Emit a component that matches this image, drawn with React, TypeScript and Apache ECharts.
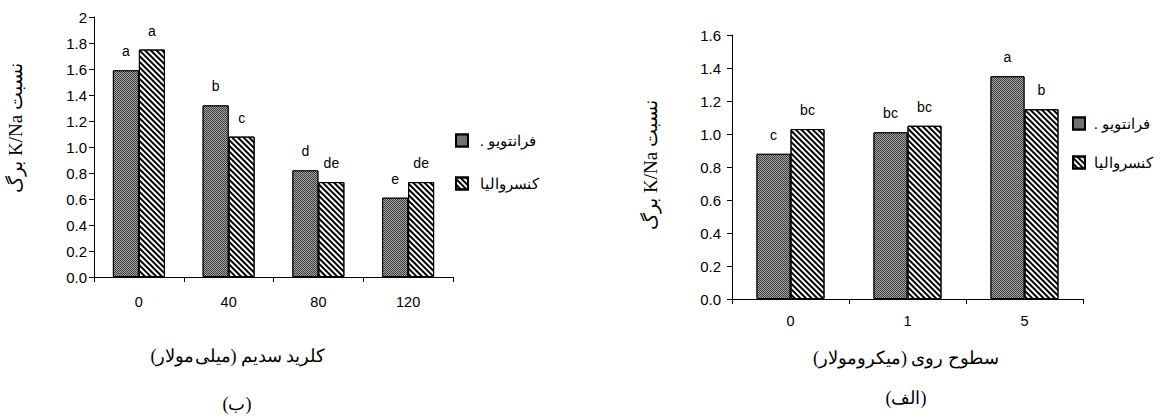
import React, { useEffect, useRef } from "react";
import * as echarts from "echarts";

// ---------- data ----------
const seriesNames = ["فرانتویو", "کنسروالیا"];

// chart (ب) : NaCl levels
const naclCategories = ["0", "40", "80", "120"];
const naclFrantoio = [1.59, 1.32, 0.82, 0.61];
const naclConservolia = [1.75, 1.08, 0.73, 0.73];
const naclFrantoioLetters = ["a", "b", "d", "e"];
const naclConservoliaLetters = ["a", "c", "de", "de"];
const naclYTicks = ["0.0", "0.2", "0.4", "0.6", "0.8", "1.0", "1.2", "1.4", "1.6", "1.8", "2"];

// chart (الف) : Zn levels
const znCategories = ["0", "1", "5"];
const znFrantoio = [0.88, 1.01, 1.35];
const znConservolia = [1.03, 1.05, 1.15];
const znFrantoioLetters = ["c", "bc", "a"];
const znConservoliaLetters = ["bc", "bc", "b"];
const znYTicks = ["0.0", "0.2", "0.4", "0.6", "0.8", "1.0", "1.2", "1.4", "1.6"];

const yAxisTitle = "نسبت K/Na برگ";
const naclXTitle = "کلرید سدیم (میلی‌مولار)";
const naclCaption = "(ب)";
const znXTitle = "سطوح روی (میکرومولار)";
const znCaption = "(الف)";

const rtl = (s: string) => "\u202B" + s + "\u202C";

const SANS = "Liberation Sans, Arial, sans-serif";
const SERIF = "Liberation Serif, 'Times New Roman', DejaVu Serif, serif";

const darkStyle = {
  color: "#3a3a3a",
  borderColor: "#000",
  borderWidth: 1,
  decal: {
    symbol: "rect",
    symbolSize: 1,
    color: "#a8a8a8",
    dashArrayX: [
      [1, 1],
      [0, 1, 1, 0],
    ],
    dashArrayY: [1, 0],
  },
};
const hatchStyle = {
  color: "#ffffff",
  borderColor: "#000",
  borderWidth: 1,
  decal: {
    symbol: "rect",
    symbolSize: 1,
    color: "#000",
    dashArrayX: [1, 0],
    dashArrayY: [1.4, 1.6],
    rotation: Math.PI / 4,
  },
};

const labelStyle = (letters: string[]) => ({
  show: true,
  position: "top",
  distance: 12,
  color: "#000",
  fontFamily: SANS,
  fontSize: 14,
  formatter: (p: any) => letters[p.dataIndex],
});

export default function App() {
  const ref = useRef<HTMLDivElement>(null);
  useEffect(() => {
    if (!ref.current) return;
    const chart = echarts.init(ref.current, null, { renderer: "svg" });
    const axisLine = { show: true, lineStyle: { color: "#000", width: 1 } };
    const axisTick = { show: true, length: 5, inside: false, lineStyle: { color: "#000" } };
    const titleStyle = (text: string) => ({
      text: rtl(text),
      fill: "#000",
      font: "18px " + SERIF,
      textAlign: "center",
      textVerticalAlign: "middle",
    });
    const option: any = {
      animation: false,
      backgroundColor: "#fff",
      grid: [
        { left: 94, top: 17, width: 359, height: 260 },
        { left: 732, top: 35, width: 351, height: 264 },
      ],
      xAxis: [
        {
          type: "category",
          gridIndex: 0,
          data: naclCategories,
          axisLine,
          axisTick,
          axisLabel: { color: "#000", fontFamily: SANS, fontSize: 14.5, margin: 17 },
        },
        {
          type: "category",
          gridIndex: 1,
          data: znCategories,
          axisLine,
          axisTick,
          axisLabel: { color: "#000", fontFamily: SANS, fontSize: 14.5, margin: 14 },
        },
      ],
      yAxis: [
        {
          type: "value",
          gridIndex: 0,
          min: 0,
          max: 2,
          interval: 0.2,
          axisLine,
          axisTick,
          splitLine: { show: false },
          axisLabel: {
            color: "#000",
            fontFamily: SANS,
            fontSize: 15,
            margin: 7,
            formatter: (v: number) => naclYTicks[Math.round(v / 0.2)],
          },
        },
        {
          type: "value",
          gridIndex: 1,
          min: 0,
          max: 1.6,
          interval: 0.2,
          axisLine,
          axisTick,
          splitLine: { show: false },
          axisLabel: {
            color: "#000",
            fontFamily: SANS,
            fontSize: 15,
            margin: 11,
            formatter: (v: number) => znYTicks[Math.round(v / 0.2)],
          },
        },
      ],
      legend: [
        {
          left: 455,
          top: 133,
          padding: 0,
          orient: "vertical",
          icon: "rect",
          itemWidth: 12,
          itemHeight: 12,
          itemGap: 28,
          selectedMode: false,
          data: seriesNames,
          formatter: (n: string) => (n === seriesNames[0] ? rtl(n + " .") : rtl(n)),
          textStyle: { color: "#000", fontFamily: SERIF, fontSize: 15, padding: [0, 0, 0, 7] },
        },
        {
          left: 1072,
          top: 116,
          padding: 0,
          orient: "vertical",
          icon: "rect",
          itemWidth: 12,
          itemHeight: 12,
          itemGap: 24,
          selectedMode: false,
          data: seriesNames,
          formatter: (n: string) => (n === seriesNames[0] ? rtl(n + " .") : rtl(n)),
          textStyle: { color: "#000", fontFamily: SERIF, fontSize: 15, padding: [0, 0, 0, 4] },
        },
      ],
      series: [
        {
          name: seriesNames[0],
          type: "bar",
          xAxisIndex: 0,
          yAxisIndex: 0,
          data: naclFrantoio,
          barWidth: 26,
          barGap: "0%",
          itemStyle: darkStyle,
          label: labelStyle(naclFrantoioLetters),
        },
        {
          name: seriesNames[1],
          type: "bar",
          xAxisIndex: 0,
          yAxisIndex: 0,
          data: naclConservolia,
          barWidth: 26,
          barGap: "0%",
          itemStyle: hatchStyle,
          label: labelStyle(naclConservoliaLetters),
        },
        {
          name: seriesNames[0],
          type: "bar",
          xAxisIndex: 1,
          yAxisIndex: 1,
          data: znFrantoio,
          barWidth: 34,
          barGap: "0%",
          itemStyle: darkStyle,
          label: labelStyle(znFrantoioLetters),
        },
        {
          name: seriesNames[1],
          type: "bar",
          xAxisIndex: 1,
          yAxisIndex: 1,
          data: znConservolia,
          barWidth: 34,
          barGap: "0%",
          itemStyle: hatchStyle,
          label: labelStyle(znConservoliaLetters),
        },
      ],
      graphic: [
        { type: "text", x: 15, y: 128, rotation: Math.PI / 2, style: { ...titleStyle(yAxisTitle), font: "19px " + SERIF } },
        { type: "text", x: 650, y: 165, rotation: Math.PI / 2, style: { ...titleStyle(yAxisTitle), font: "19px " + SERIF } },
        { type: "text", x: 238, y: 356, style: titleStyle(naclXTitle) },
        { type: "text", x: 237, y: 404, style: titleStyle(naclCaption) },
        { type: "text", x: 906, y: 358, style: titleStyle(znXTitle) },
        { type: "text", x: 906, y: 398, style: titleStyle(znCaption) },
      ],
    };
    chart.setOption(option);
    return () => chart.dispose();
  }, []);
  return (
    <div
      ref={ref}
      style={{ position: "absolute", left: 0, top: 0, width: 1164, height: 419, background: "#fff" }}
    />
  );
}
